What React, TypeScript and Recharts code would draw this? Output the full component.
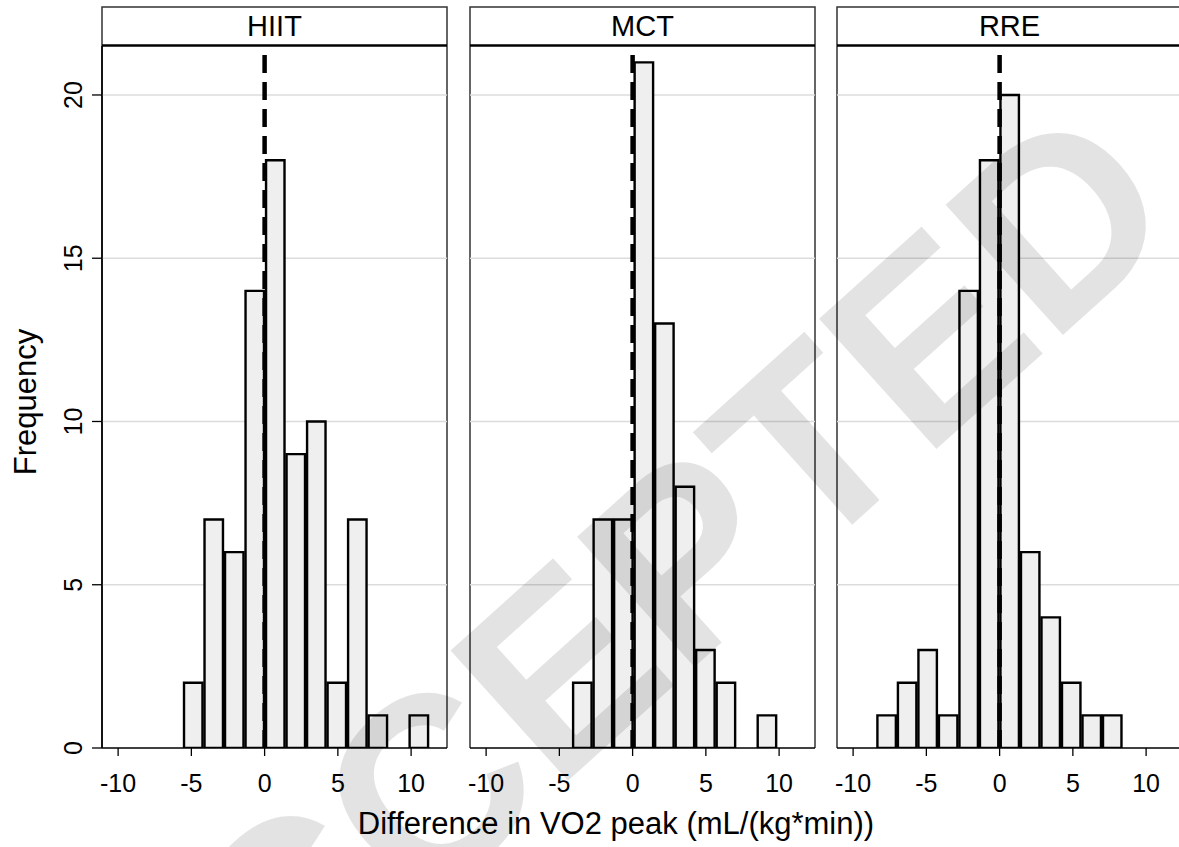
import React from 'react'
import { ComposedChart, Bar, XAxis, YAxis, CartesianGrid, ReferenceLine } from 'recharts'

// histogram bins: midpoints (bin width 1.4) and frequencies
const HIIT_BINS = [-4.87, -3.47, -2.07, -0.67, 0.73, 2.13, 3.53, 4.93, 6.33, 7.73, 9.13, 10.53]
const HIIT_FREQ = [2, 7, 6, 14, 18, 9, 10, 2, 7, 1, 0, 1]
const MCT_BINS = [-3.43, -2.03, -0.63, 0.77, 2.17, 3.57, 4.97, 6.37, 7.77, 9.17]
const MCT_FREQ = [2, 7, 7, 21, 13, 8, 3, 2, 0, 1]
const RRE_BINS = [-7.71, -6.31, -4.91, -3.51, -2.11, -0.71, 0.69, 2.09, 3.49, 4.89, 6.29, 7.69]
const RRE_FREQ = [1, 2, 3, 1, 14, 18, 20, 6, 4, 2, 1, 1]

const GROUPS = ['HIIT', 'MCT', 'RRE']
const X_TICKS = [-10, -5, 0, 5, 10]
const Y_TICKS = [0, 5, 10, 15, 20]
const GRID_VALUES = [5, 10, 15, 20]
const BIN_WIDTH = 1.4
const X_DOMAIN: [number, number] = [-11.1, 12.45]
const Y_DOMAIN: [number, number] = [0, 21.5]

const W = 1179
const H = 847
const PLOT_W = 345
const TOP = 46
const BOTTOM = 748
const PANEL_LEFT = [102, 470, 837]
const PAD = 20 // room for the "-10" label that sticks out left of panels 2 and 3
const BAR_PX = (BIN_WIDTH * PLOT_W) / (X_DOMAIN[1] - X_DOMAIN[0])
const FONT = 'Liberation Sans, Arial, Helvetica, sans-serif'

const YTick = ({ x, y, payload }: any) => (
  <text transform={`translate(${x - 8},${y}) rotate(-90)`} textAnchor="middle" fontSize={25} fill="#000" fontFamily={FONT}>
    {payload.value}
  </text>
)

function Panel({ bins, freq, left, showY }: { bins: number[]; freq: number[]; left: number; showY: boolean }) {
  const data = bins.map((x, i) => ({ x, n: freq[i] }))
  const yW = showY ? left : 0
  const padL = showY ? 0 : PAD
  return (
    <div style={{ position: 'absolute', left: showY ? 0 : left - PAD, top: 0 }}>
      <ComposedChart width={padL + yW + PLOT_W} height={H} data={data} margin={{ top: TOP, right: 0, bottom: 0, left: padL }}>
        <CartesianGrid horizontal vertical={false} stroke="#dcdcdc" strokeWidth={1.5} horizontalValues={GRID_VALUES} />
        <XAxis
          dataKey="x"
          type="number"
          domain={X_DOMAIN}
          ticks={X_TICKS}
          interval={0}
          allowDataOverflow
          height={H - BOTTOM}
          tickSize={8}
          tickMargin={18}
          stroke="#000"
          axisLine={{ stroke: '#000', strokeWidth: 1.6 }}
          tickLine={{ stroke: '#000', strokeWidth: 1.3 }}
          tick={{ fontSize: 25, fill: '#000', fontFamily: FONT }}
        />
        <YAxis
          type="number"
          domain={Y_DOMAIN}
          ticks={Y_TICKS}
          interval={0}
          allowDataOverflow
          width={yW}
          hide={!showY}
          tickSize={10}
          stroke="#000"
          axisLine={{ stroke: '#000', strokeWidth: 1.6 }}
          tickLine={{ stroke: '#000', strokeWidth: 1.3 }}
          tick={<YTick />}
        />
        <Bar dataKey="n" fill="#efefef" stroke="#000" strokeWidth={2.4} barSize={BAR_PX} isAnimationActive={false} />
        <ReferenceLine x={0} stroke="#000" strokeWidth={4.5} strokeDasharray="18 9" />
      </ComposedChart>
    </div>
  )
}

export default function App() {
  const bins = [HIIT_BINS, MCT_BINS, RRE_BINS]
  const freqs = [HIIT_FREQ, MCT_FREQ, RRE_FREQ]
  return (
    <div style={{ position: 'absolute', left: 0, top: 0, width: W, height: H, overflow: 'hidden', background: '#fff', fontFamily: FONT }}>
      {/* frames and strip headers */}
      <svg width={W} height={H} style={{ position: 'absolute', left: 0, top: 0 }}>
        {PANEL_LEFT.map((l, i) => (
          <g key={GROUPS[i]}>
            <path d={`M${l},${BOTTOM} V7 H${l + PLOT_W} V${BOTTOM}`} fill="none" stroke="#333" strokeWidth={1.5} />
            <line x1={l} x2={l + PLOT_W} y1={45.5} y2={45.5} stroke="#000" strokeWidth={2.5} />
            <text x={l + PLOT_W / 2} y={36} textAnchor="middle" fontSize={29} fill="#000" fontFamily={FONT}>
              {GROUPS[i]}
            </text>
          </g>
        ))}
        <text transform="translate(36,402) rotate(-90)" textAnchor="middle" fontSize={31} fill="#000" fontFamily={FONT}>
          Frequency
        </text>
        <text x={616} y={834} textAnchor="middle" fontSize={31} fill="#000" fontFamily={FONT}>
          Difference in VO2 peak (mL/(kg*min))
        </text>
      </svg>
      {PANEL_LEFT.map((l, i) => (
        <Panel key={GROUPS[i]} bins={bins[i]} freq={freqs[i]} left={l} showY={i === 0} />
      ))}
      {/* watermark */}
      <svg width={W} height={H} style={{ position: 'absolute', left: 0, top: 0, pointerEvents: 'none' }}>
        <text transform="translate(605,625) rotate(-42)" y={91} textAnchor="middle" fontSize={255} fontWeight="bold" fill="#000" fillOpacity={0.11} fontFamily={FONT}>
          ACCEPTED
        </text>
      </svg>
    </div>
  )
}
